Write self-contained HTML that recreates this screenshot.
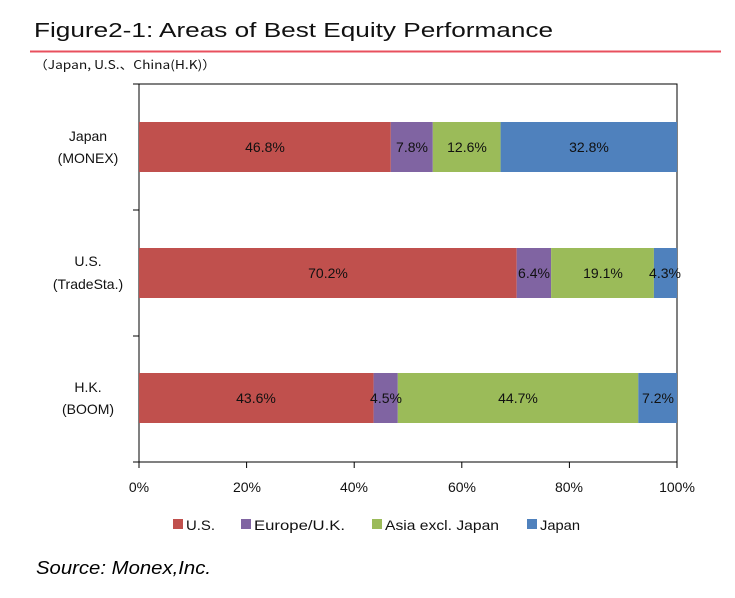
<!DOCTYPE html>
<html><head><meta charset="utf-8"><style>
body{margin:0;background:#fff;width:735px;height:593px;overflow:hidden;font-family:"Liberation Sans","Noto Sans CJK JP",sans-serif}
</style></head><body>
<svg width="735" height="593" xmlns="http://www.w3.org/2000/svg" font-family="Liberation Sans, Noto Sans CJK JP, sans-serif">
<text x="34" y="37" font-size="20" fill="#111" textLength="519" lengthAdjust="spacingAndGlyphs">Figure2-1: Areas of Best Equity Performance</text>
<line x1="30" y1="51.5" x2="721" y2="51.5" stroke="#e8505e" stroke-width="2"/>
<text x="34" y="69" font-size="12" fill="#111" font-family="Noto Sans CJK JP, sans-serif" textLength="182" lengthAdjust="spacingAndGlyphs">（Japan, U.S.、China(H.K)）</text>
<rect x="139" y="84" width="538" height="378" fill="none" stroke="#000" stroke-width="1"/>
<g stroke="#000">
<line x1="133" y1="84" x2="139" y2="84"/><line x1="133" y1="210" x2="139" y2="210"/><line x1="133" y1="336" x2="139" y2="336"/><line x1="133" y1="462" x2="139" y2="462"/>
<line x1="139" y1="462" x2="139" y2="468"/><line x1="246.6" y1="462" x2="246.6" y2="468"/><line x1="354.2" y1="462" x2="354.2" y2="468"/><line x1="461.8" y1="462" x2="461.8" y2="468"/><line x1="569.4" y1="462" x2="569.4" y2="468"/><line x1="677" y1="462" x2="677" y2="468"/>
</g>
<rect x="139" y="122" width="251.8" height="50" fill="#c0504d"/>
<rect x="390.8" y="122" width="42" height="50" fill="#8064a2"/>
<rect x="432.8" y="122" width="67.8" height="50" fill="#9bbb59"/>
<rect x="500.6" y="122" width="176.4" height="50" fill="#4f81bd"/>
<rect x="139" y="248" width="377.7" height="50" fill="#c0504d"/>
<rect x="516.7" y="248" width="34.4" height="50" fill="#8064a2"/>
<rect x="551.1" y="248" width="102.8" height="50" fill="#9bbb59"/>
<rect x="653.9" y="248" width="23.1" height="50" fill="#4f81bd"/>
<rect x="139" y="373" width="234.6" height="50" fill="#c0504d"/>
<rect x="373.6" y="373" width="24.2" height="50" fill="#8064a2"/>
<rect x="397.8" y="373" width="240.5" height="50" fill="#9bbb59"/>
<rect x="638.3" y="373" width="38.7" height="50" fill="#4f81bd"/>
<g font-size="14" fill="#111" text-anchor="middle">
<text x="265" y="152">46.8%</text><text x="412" y="152">7.8%</text><text x="467" y="152">12.6%</text><text x="589" y="152">32.8%</text>
<text x="328" y="278">70.2%</text><text x="534" y="278">6.4%</text><text x="603" y="278">19.1%</text><text x="665" y="278">4.3%</text>
<text x="256" y="403">43.6%</text><text x="386" y="403">4.5%</text><text x="518" y="403">44.7%</text><text x="658" y="403">7.2%</text>
<text x="88" y="141">Japan</text><text x="88" y="163">(MONEX)</text>
<text x="88" y="266">U.S.</text><text x="88" y="289">(TradeSta.)</text>
<text x="88" y="392">H.K.</text><text x="88" y="414">(BOOM)</text>
<text x="139" y="492">0%</text><text x="247" y="492">20%</text><text x="354" y="492">40%</text><text x="462" y="492">60%</text><text x="569" y="492">80%</text><text x="677" y="492">100%</text>
</g>
<g font-size="14" fill="#111">
<rect x="173" y="519" width="10" height="10" fill="#c0504d"/><text x="186" y="530" textLength="29" lengthAdjust="spacingAndGlyphs">U.S.</text>
<rect x="241" y="519" width="10" height="10" fill="#8064a2"/><text x="254" y="530" textLength="91" lengthAdjust="spacingAndGlyphs">Europe/U.K.</text>
<rect x="372" y="519" width="10" height="10" fill="#9bbb59"/><text x="385" y="530" textLength="114" lengthAdjust="spacingAndGlyphs">Asia excl. Japan</text>
<rect x="527" y="519" width="10" height="10" fill="#4f81bd"/><text x="540" y="530" textLength="40" lengthAdjust="spacingAndGlyphs">Japan</text>
</g>
<text x="36" y="574" font-size="18" font-style="italic" fill="#000" textLength="175" lengthAdjust="spacingAndGlyphs">Source: Monex,Inc.</text>
</svg>
</body></html>
